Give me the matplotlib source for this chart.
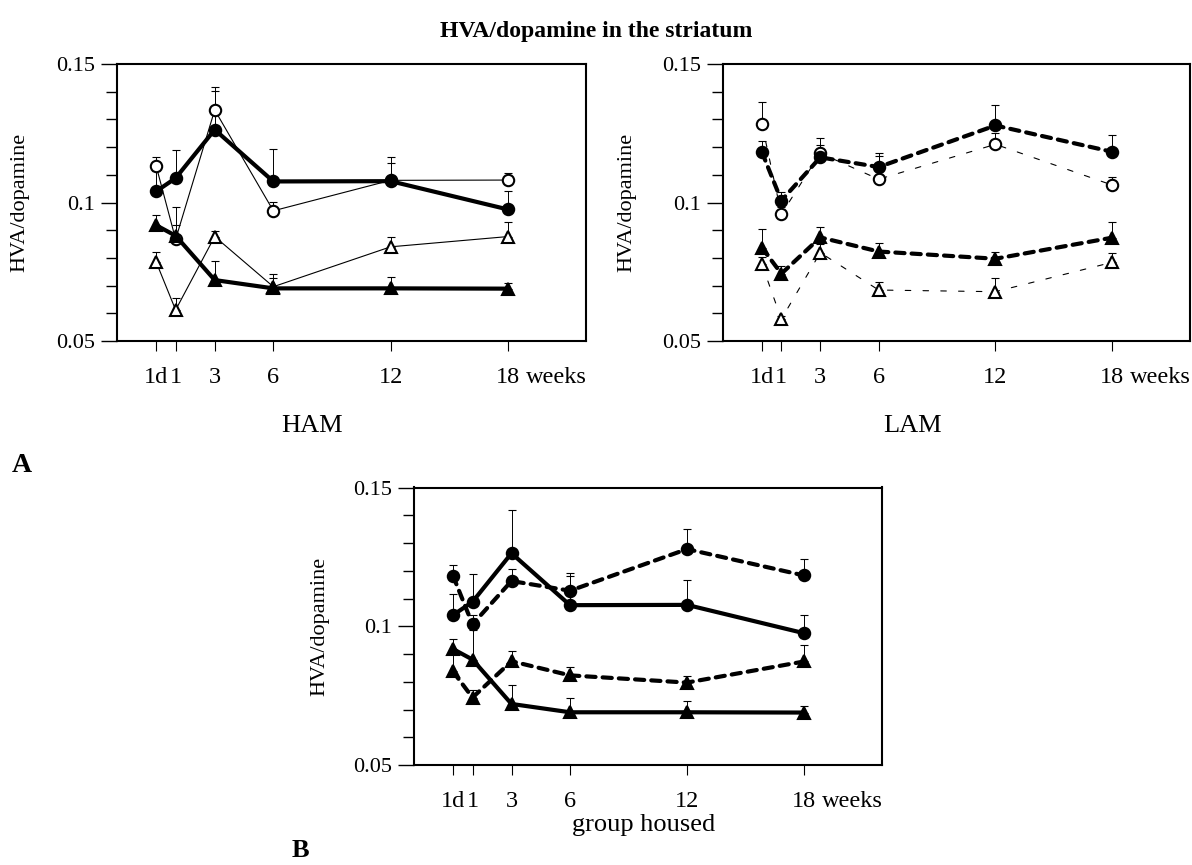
import numpy as np
import matplotlib
matplotlib.use("Agg")
import matplotlib.pyplot as plt

plt.rcParams['font.family'] = ['Liberation Serif', 'DejaVu Serif']

W, H = 1192, 865

# ---- data ----
weeks = [0, 1, 3, 6, 12, 18]
week_labels = ['1d', '1', '3', '6', '12', '18']
ytick_vals = [0.05, 0.1, 0.15]
ytick_labels = ['0.05', '0.1', '0.15']

# HAM (solid lines)
ham_filled_circ = [0.1040, 0.1088, 0.1263, 0.1076, 0.1077, 0.0975]
ham_filled_circ_err = [0.0075, 0.0100, 0.0155, 0.0116, 0.0089, 0.0067]
ham_open_circ = [0.1133, 0.0867, 0.1334, 0.0970, 0.1080, 0.1081]
ham_open_circ_err = [0.0032, 0.0052, 0.0069, 0.0033, 0.0064, 0.0027]
ham_filled_tri = [0.0918, 0.0880, 0.0720, 0.0690, 0.0690, 0.0689]
ham_filled_tri_err = [0.0037, 0.0105, 0.0070, 0.0053, 0.0042, 0.0022]
ham_open_tri = [0.0786, 0.0612, 0.0877, 0.0696, 0.0840, 0.0877]
ham_open_tri_err = [0.0036, 0.0044, 0.0020, 0.0033, 0.0037, 0.0054]

# LAM (dashed lines)
lam_filled_circ = [0.1182, 0.1007, 0.1163, 0.1128, 0.1278, 0.1183]
lam_filled_circ_err = [0.0040, 0.0032, 0.0044, 0.0052, 0.0074, 0.0061]
lam_open_circ = [0.1283, 0.0958, 0.1178, 0.1084, 0.1210, 0.1063]
lam_open_circ_err = [0.0081, 0.0027, 0.0056, 0.0084, 0.0040, 0.0030]
lam_filled_tri = [0.0837, 0.0743, 0.0874, 0.0823, 0.0797, 0.0873]
lam_filled_tri_err = [0.0067, 0.0029, 0.0038, 0.0029, 0.0023, 0.0058]
lam_open_tri = [0.0777, 0.0579, 0.0819, 0.0684, 0.0678, 0.0784]
lam_open_tri_err = [0.0025, 0.0010, 0.0031, 0.0030, 0.0051, 0.0035]

fig = plt.figure(figsize=(W / 100, H / 100), dpi=100)


def rect(x0, y0, x1, y1):
    return [x0 / W, 1 - y1 / H, (x1 - x0) / W, (y1 - y0) / H]


def fpos(x, y):
    return x / W, 1 - y / H


THICK_DASH = (0, (2.2, 1.7))
THIN_DASH = (0, (5, 11))


def series(ax, y, err, marker, filled, lw, ls):
    zeros = np.zeros(len(err))
    ax.errorbar(weeks, y, yerr=[zeros, err], fmt='none', ecolor='black',
                elinewidth=0.7, capsize=3.2, capthick=0.8, zorder=2)
    ax.plot(weeks, y, color='black', lw=lw, linestyle=ls, zorder=3,
            solid_joinstyle='round', dash_capstyle='round')
    ax.plot(weeks, y, linestyle='none', marker=marker,
            ms=8.2 if marker == 'o' else 8.6,
            mfc='black' if filled else 'white', mec='black', mew=1.5,
            zorder=4)


def setup(ax):
    ax.set_xlim(-2, 22)
    ax.set_ylim(0.05, 0.15)
    ax.set_xticks(weeks)
    ax.set_xticklabels(week_labels)
    ax.set_yticks(ytick_vals)
    ax.set_yticklabels(ytick_labels)
    ax.set_yticks(np.arange(0.05, 0.1501, 0.01), minor=True)
    ax.tick_params(axis='y', which='major', direction='out', length=11.5,
                   width=1.0, pad=4.5, labelsize=16, right=False)
    ax.tick_params(axis='y', which='minor', direction='out', length=8,
                   width=1.0, right=False)
    ax.tick_params(axis='x', which='major', direction='out', length=7,
                   width=0.8, pad=12, labelsize=17.5, top=False)
    ax.tick_params(axis='x', which='minor', bottom=False, top=False)
    for s in ax.spines.values():
        s.set_linewidth(1.5)
    ax.annotate('weeks', xy=(18, 0), xycoords=('data', 'axes fraction'),
                xytext=(0.75 * 17.5, -(7 + 12)), textcoords='offset points',
                ha='left', va='top', fontsize=17.5, annotation_clip=False)


# ---- HAM ----
ax1 = fig.add_axes(rect(117, 64, 586, 341))
setup(ax1)
series(ax1, ham_open_circ, ham_open_circ_err, 'o', False, 0.8, '-')
series(ax1, ham_open_tri, ham_open_tri_err, '^', False, 0.8, '-')
series(ax1, ham_filled_circ, ham_filled_circ_err, 'o', True, 3.0, '-')
series(ax1, ham_filled_tri, ham_filled_tri_err, '^', True, 3.0, '-')

# ---- LAM ----
ax2 = fig.add_axes(rect(723, 64, 1190, 341))
setup(ax2)
series(ax2, lam_open_circ, lam_open_circ_err, 'o', False, 0.8, THIN_DASH)
series(ax2, lam_open_tri, lam_open_tri_err, '^', False, 0.8, THIN_DASH)
series(ax2, lam_filled_circ, lam_filled_circ_err, 'o', True, 3.0, THICK_DASH)
series(ax2, lam_filled_tri, lam_filled_tri_err, '^', True, 3.0, THICK_DASH)

# ---- group housed ----
ax3 = fig.add_axes(rect(414, 487.5, 882, 765))
setup(ax3)
series(ax3, lam_filled_circ, lam_filled_circ_err, 'o', True, 3.0, THICK_DASH)
series(ax3, lam_filled_tri, lam_filled_tri_err, '^', True, 3.0, THICK_DASH)
series(ax3, ham_filled_circ, ham_filled_circ_err, 'o', True, 3.0, '-')
series(ax3, ham_filled_tri, ham_filled_tri_err, '^', True, 3.0, '-')

# ---- texts ----
fig.text(*fpos(596, 37), 'HVA/dopamine in the striatum', ha='center',
         va='baseline', fontsize=17, fontweight='bold')
for (x, y) in [(20, 202), (627, 202), (320, 626)]:
    fig.text(*fpos(x, y), 'HVA/dopamine', rotation=90, ha='center',
             va='center', fontsize=16)
fig.text(*fpos(312.5, 432), 'HAM', ha='center', va='baseline', fontsize=19)
fig.text(*fpos(912.5, 432), 'LAM', ha='center', va='baseline', fontsize=19)
fig.text(*fpos(643.7, 831), 'group housed', ha='center', va='baseline',
         fontsize=19)
fig.text(*fpos(11.7, 472), 'A', ha='left', va='baseline', fontsize=20,
         fontweight='bold')
fig.text(*fpos(291.7, 857), 'B', ha='left', va='baseline', fontsize=19,
         fontweight='bold')

fig.savefig('out.png', dpi=100)
